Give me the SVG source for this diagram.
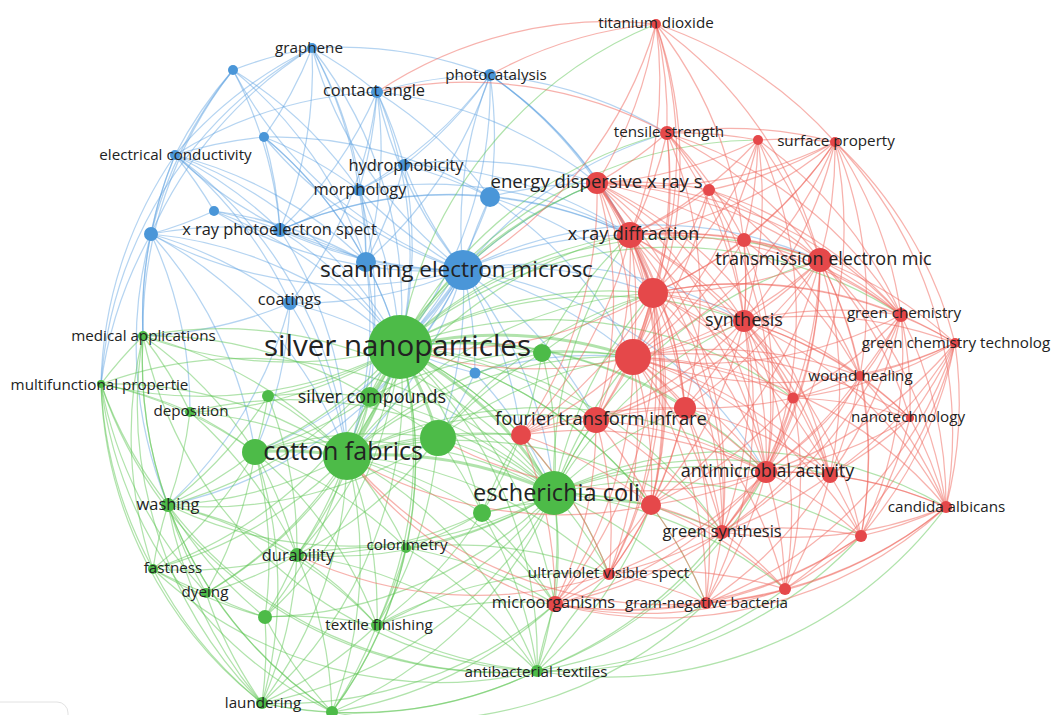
<svg xmlns="http://www.w3.org/2000/svg" width="1059" height="715" viewBox="0 0 1059 715">
<style>
#edges path{fill:none;stroke-width:1.25}
.eb path{stroke:#5b9fe0;stroke-opacity:.45}
.eg path{stroke:#5cc552;stroke-opacity:.48}
.er path{stroke:#f0665c;stroke-opacity:.5}
#edges path.w{stroke-width:3}
.nb circle{fill:#4a96d8}
.ng circle{fill:#4dbb48}
.nr circle{fill:#e5484a}
text{font-family:"Open Sans","Liberation Sans",sans-serif;fill:#222;text-anchor:middle}
.s{font-size:15.2px}.m{font-size:16.4px}.l{font-size:18px}
</style>
<rect width="1059" height="715" fill="#fff"/>
<rect x="-12" y="702" width="80" height="40" rx="11" fill="#fff" stroke="#e2e2e2"/>
<g id="edges">
<g class="eb">
<path d="M463 270A420 420 0 0 1 312 48"/>
<path d="M463 270A420 420 0 0 1 233 70"/>
<path d="M463 270A420 420 0 0 1 377 92"/>
<path d="M463 270A420 420 0 0 1 490 75"/>
<path d="M463 270A420 420 0 0 1 264 137"/>
<path d="M463 270A420 420 0 0 1 175 155"/>
<path d="M463 270A420 420 0 0 1 404 165"/>
<path d="M463 270A420 420 0 0 1 359 190"/>
<path d="M463 270A420 420 0 0 1 490 197"/>
<path d="M463 270A420 420 0 0 1 214 211"/>
<path d="M463 270A420 420 0 0 1 280 230"/>
<path d="M463 270A420 420 0 0 1 151 234"/>
<path d="M463 270A420 420 0 0 1 366 262"/>
<path d="M463 270A420 420 0 0 1 290 303"/>
<path d="M463 270A420 420 0 0 1 475 373"/>
<path class="w" d="M463 270A420 420 0 0 1 400 347"/>
<path d="M463 270A420 420 0 0 1 347 456"/>
<path d="M463 270A420 420 0 0 1 438 438"/>
<path d="M463 270A420 420 0 0 1 554 493"/>
<path d="M463 270A420 420 0 0 1 370 397"/>
<path d="M463 270A420 420 0 0 1 597 183"/>
<path d="M463 270A420 420 0 0 1 630 235"/>
<path d="M463 270A420 420 0 0 1 653 293"/>
<path d="M463 270A420 420 0 0 1 633 357"/>
<path d="M463 270A420 420 0 0 1 820 260"/>
<path d="M463 270A420 420 0 0 1 667 133"/>
<path d="M463 270A420 420 0 0 1 744 321"/>
<path d="M463 270A420 420 0 0 1 596 420"/>
<path d="M463 270A420 420 0 0 1 255 452"/>
<path d="M463 270A420 420 0 0 1 168 505"/>
<path d="M463 270A420 420 0 0 1 521 435"/>
<path d="M463 270A420 420 0 0 1 766 472"/>
<path d="M233 70A420 420 0 0 1 312 48"/>
<path d="M312 48A420 420 0 0 1 377 92"/>
<path d="M312 48A420 420 0 0 1 264 137"/>
<path d="M175 155A420 420 0 0 1 312 48"/>
<path d="M312 48A420 420 0 0 1 359 190"/>
<path d="M312 48A420 420 0 0 1 280 230"/>
<path d="M312 48A420 420 0 0 1 366 262"/>
<path d="M312 48A420 420 0 0 1 490 75"/>
<path d="M312 48A420 420 0 0 1 400 347"/>
<path d="M151 234A420 420 0 0 1 312 48"/>
<path d="M175 155A420 420 0 0 1 233 70"/>
<path d="M151 234A420 420 0 0 1 233 70"/>
<path d="M233 70A420 420 0 0 1 280 230"/>
<path d="M233 70A420 420 0 0 1 366 262"/>
<path d="M233 70A420 420 0 0 1 359 190"/>
<path d="M377 92A420 420 0 0 1 404 165"/>
<path d="M377 92A420 420 0 0 1 359 190"/>
<path d="M377 92A420 420 0 0 1 490 197"/>
<path d="M377 92A420 420 0 0 1 366 262"/>
<path d="M377 92A420 420 0 0 1 290 303"/>
<path d="M377 92A420 420 0 0 1 280 230"/>
<path d="M377 92A420 420 0 0 1 490 75"/>
<path d="M377 92A420 420 0 0 1 400 347"/>
<path d="M175 155A420 420 0 0 1 377 92"/>
<path d="M377 92A420 420 0 0 1 597 183"/>
<path d="M490 75A420 420 0 0 1 490 197"/>
<path d="M490 75A420 420 0 0 1 404 165"/>
<path d="M490 75A420 420 0 0 1 597 183"/>
<path d="M490 75A420 420 0 0 1 630 235"/>
<path d="M490 75A420 420 0 0 1 359 190"/>
<path d="M490 75A420 420 0 0 1 667 133"/>
<path d="M490 75A420 420 0 0 1 400 347"/>
<path d="M490 75A420 420 0 0 1 366 262"/>
<path d="M490 75A420 420 0 0 1 653 293"/>
<path d="M151 234A420 420 0 0 1 175 155"/>
<path d="M175 155A420 420 0 0 1 280 230"/>
<path d="M175 155A420 420 0 0 1 214 211"/>
<path d="M175 155A420 420 0 0 1 264 137"/>
<path d="M175 155A420 420 0 0 1 290 303"/>
<path d="M175 155A420 420 0 0 1 366 262"/>
<path d="M175 155A420 420 0 0 1 400 347"/>
<path d="M175 155A420 420 0 0 1 347 456"/>
<path d="M264 137A420 420 0 0 1 280 230"/>
<path d="M264 137A420 420 0 0 1 359 190"/>
<path d="M264 137A420 420 0 0 1 490 197"/>
<path d="M264 137A420 420 0 0 1 366 262"/>
<path d="M264 137A420 420 0 0 1 400 347"/>
<path d="M404 165A420 420 0 0 1 359 190"/>
<path d="M404 165A420 420 0 0 1 490 197"/>
<path d="M404 165A420 420 0 0 1 366 262"/>
<path d="M404 165A420 420 0 0 1 400 347"/>
<path d="M404 165A420 420 0 0 1 597 183"/>
<path d="M404 165A420 420 0 0 1 630 235"/>
<path d="M359 190A420 420 0 0 1 366 262"/>
<path d="M359 190A420 420 0 0 1 280 230"/>
<path d="M359 190A420 420 0 0 1 400 347"/>
<path d="M359 190A420 420 0 0 1 630 235"/>
<path d="M359 190A420 420 0 0 1 347 456"/>
<path d="M214 211A420 420 0 0 1 280 230"/>
<path d="M214 211A420 420 0 0 1 151 234"/>
<path d="M214 211A420 420 0 0 1 400 347"/>
<path d="M214 211A420 420 0 0 1 366 262"/>
<path d="M151 234A420 420 0 0 1 280 230"/>
<path d="M280 230A420 420 0 0 1 366 262"/>
<path d="M280 230A420 420 0 0 1 400 347"/>
<path d="M280 230A420 420 0 0 1 347 456"/>
<path d="M280 230A420 420 0 0 1 490 197"/>
<path d="M280 230A420 420 0 0 1 630 235"/>
<path d="M143 336A420 420 0 0 1 151 234"/>
<path d="M151 234A420 420 0 0 1 290 303"/>
<path d="M151 234A420 420 0 0 1 255 452"/>
<path d="M168 505A420 420 0 0 1 151 234"/>
<path d="M151 234A420 420 0 0 1 190 412"/>
<path d="M151 234A420 420 0 0 1 400 347"/>
<path d="M151 234A420 420 0 0 1 347 456"/>
<path d="M101 384A420 420 0 0 1 151 234"/>
<path d="M490 197A420 420 0 0 1 597 183"/>
<path d="M490 197A420 420 0 0 1 630 235"/>
<path d="M490 197A420 420 0 0 1 400 347"/>
<path d="M490 197A420 420 0 0 1 653 293"/>
<path d="M490 197A420 420 0 0 1 633 357"/>
<path d="M366 262A420 420 0 0 1 347 456"/>
<path d="M366 262A420 420 0 0 1 400 347"/>
<path d="M366 262A420 420 0 0 1 370 397"/>
<path d="M290 303A420 420 0 0 1 347 456"/>
<path d="M290 303A420 420 0 0 1 255 452"/>
<path d="M290 303A420 420 0 0 1 400 347"/>
<path d="M290 303A420 420 0 0 1 168 505"/>
<path d="M290 303A420 420 0 0 1 143 336"/>
<path d="M475 373A420 420 0 0 1 400 347"/>
<path d="M475 373A420 420 0 0 1 633 357"/>
<path d="M475 373A420 420 0 0 1 554 493"/>
<path d="M475 373A420 420 0 0 1 438 438"/>
<path d="M143 336A420 420 0 0 1 175 155"/>
<path d="M101 384A420 420 0 0 1 175 155"/>
<path d="M143 336A420 420 0 0 1 233 70"/>
<path d="M101 384A420 420 0 0 1 312 48"/>
</g>
<g class="eg">
<path d="M400 347A420 420 0 0 1 143 336"/>
<path d="M400 347A420 420 0 0 1 101 384"/>
<path d="M400 347A420 420 0 0 1 268 396"/>
<path class="w" d="M400 347A420 420 0 0 1 370 397"/>
<path d="M400 347A420 420 0 0 1 190 412"/>
<path d="M400 347A420 420 0 0 1 255 452"/>
<path class="w" d="M400 347A420 420 0 0 1 347 456"/>
<path class="w" d="M400 347A420 420 0 0 1 438 438"/>
<path d="M400 347A420 420 0 0 1 542 353"/>
<path class="w" d="M400 347A420 420 0 0 1 554 493"/>
<path d="M400 347A420 420 0 0 1 482 513"/>
<path d="M400 347A420 420 0 0 1 168 505"/>
<path d="M400 347A420 420 0 0 1 297 555"/>
<path d="M400 347A420 420 0 0 1 406 548"/>
<path d="M400 347A420 420 0 0 1 153 569"/>
<path d="M400 347A420 420 0 0 1 206 593"/>
<path d="M400 347A420 420 0 0 1 265 617"/>
<path d="M400 347A420 420 0 0 1 377 625"/>
<path d="M400 347A420 420 0 0 1 537 671"/>
<path d="M400 347A420 420 0 0 1 262 703"/>
<path d="M400 347A420 420 0 0 1 332 712"/>
<path d="M400 347A420 420 0 0 1 597 183"/>
<path d="M400 347A420 420 0 0 1 630 235"/>
<path d="M400 347A420 420 0 0 1 653 293"/>
<path class="w" d="M400 347A420 420 0 0 1 633 357"/>
<path d="M400 347A420 420 0 0 1 521 435"/>
<path d="M400 347A420 420 0 0 1 596 420"/>
<path d="M400 347A420 420 0 0 1 744 321"/>
<path d="M400 347A420 420 0 0 1 766 472"/>
<path d="M400 347A420 420 0 0 1 722 532"/>
<path d="M400 347A420 420 0 0 1 609 574"/>
<path d="M400 347A420 420 0 0 1 555 604"/>
<path d="M400 347A420 420 0 0 1 820 260"/>
<path d="M400 347A420 420 0 0 1 651 505"/>
<path d="M400 347A420 420 0 0 1 685 408"/>
<path d="M400 347A420 420 0 0 1 667 133"/>
<path d="M400 347A420 420 0 0 1 656 24"/>
<path d="M400 347A420 420 0 0 1 758 140"/>
<path d="M400 347A420 420 0 0 1 706 603"/>
<path d="M400 347A420 420 0 0 1 901 315"/>
<path d="M400 347A420 420 0 0 1 793 398"/>
<path d="M101 384A420 420 0 0 1 143 336"/>
<path d="M143 336A420 420 0 0 1 255 452"/>
<path d="M143 336A420 420 0 0 1 347 456"/>
<path d="M168 505A420 420 0 0 1 143 336"/>
<path d="M143 336A420 420 0 0 1 190 412"/>
<path d="M153 569A420 420 0 0 1 143 336"/>
<path d="M262 703A420 420 0 0 1 143 336"/>
<path d="M143 336A420 420 0 0 1 554 493"/>
<path d="M143 336A420 420 0 0 1 370 397"/>
<path d="M168 505A420 420 0 0 1 101 384"/>
<path d="M153 569A420 420 0 0 1 101 384"/>
<path d="M262 703A420 420 0 0 1 101 384"/>
<path d="M101 384A420 420 0 0 1 347 456"/>
<path d="M101 384A420 420 0 0 1 255 452"/>
<path d="M206 593A420 420 0 0 1 101 384"/>
<path d="M537 671A420 420 0 0 1 101 384"/>
<path d="M101 384A420 420 0 0 1 190 412"/>
<path d="M101 384A420 420 0 0 1 554 493"/>
<path d="M268 396A420 420 0 0 1 347 456"/>
<path d="M268 396A420 420 0 0 1 168 505"/>
<path d="M268 396A420 420 0 0 1 255 452"/>
<path d="M268 396A420 420 0 0 1 370 397"/>
<path d="M268 396A420 420 0 0 1 297 555"/>
<path d="M370 397A420 420 0 0 1 347 456"/>
<path d="M370 397A420 420 0 0 1 554 493"/>
<path d="M370 397A420 420 0 0 1 438 438"/>
<path d="M370 397A420 420 0 0 1 255 452"/>
<path d="M370 397A420 420 0 0 1 297 555"/>
<path d="M370 397A420 420 0 0 1 633 357"/>
<path d="M190 412A420 420 0 0 1 347 456"/>
<path d="M190 412A420 420 0 0 1 168 505"/>
<path d="M190 412A420 420 0 0 1 255 452"/>
<path d="M190 412A420 420 0 0 1 297 555"/>
<path d="M190 412A420 420 0 0 1 554 493"/>
<path class="w" d="M255 452A420 420 0 0 1 347 456"/>
<path d="M255 452A420 420 0 0 1 168 505"/>
<path d="M255 452A420 420 0 0 1 297 555"/>
<path d="M255 452A420 420 0 0 1 153 569"/>
<path d="M255 452A420 420 0 0 1 206 593"/>
<path d="M255 452A420 420 0 0 1 265 617"/>
<path d="M255 452A420 420 0 0 1 262 703"/>
<path d="M255 452A420 420 0 0 1 554 493"/>
<path d="M255 452A420 420 0 0 1 438 438"/>
<path d="M255 452A420 420 0 0 1 377 625"/>
<path d="M255 452A420 420 0 0 1 406 548"/>
<path d="M347 456A420 420 0 0 1 438 438"/>
<path class="w" d="M347 456A420 420 0 0 1 554 493"/>
<path d="M347 456A420 420 0 0 1 168 505"/>
<path d="M347 456A420 420 0 0 1 297 555"/>
<path d="M347 456A420 420 0 0 1 406 548"/>
<path d="M347 456A420 420 0 0 1 153 569"/>
<path d="M347 456A420 420 0 0 1 206 593"/>
<path d="M347 456A420 420 0 0 1 265 617"/>
<path d="M347 456A420 420 0 0 1 377 625"/>
<path d="M347 456A420 420 0 0 1 537 671"/>
<path d="M347 456A420 420 0 0 1 262 703"/>
<path d="M347 456A420 420 0 0 1 332 712"/>
<path d="M347 456A420 420 0 0 1 482 513"/>
<path d="M347 456A420 420 0 0 1 542 353"/>
<path d="M347 456A420 420 0 0 1 633 357"/>
<path d="M347 456A420 420 0 0 1 653 293"/>
<path d="M347 456A420 420 0 0 1 596 420"/>
<path d="M347 456A420 420 0 0 1 521 435"/>
<path d="M347 456A420 420 0 0 1 766 472"/>
<path d="M347 456A420 420 0 0 1 555 604"/>
<path d="M347 456A420 420 0 0 1 609 574"/>
<path d="M347 456A420 420 0 0 1 722 532"/>
<path d="M347 456A420 420 0 0 1 630 235"/>
<path d="M347 456A420 420 0 0 1 597 183"/>
<path d="M438 438A420 420 0 0 1 554 493"/>
<path d="M438 438A420 420 0 0 1 297 555"/>
<path d="M438 438A420 420 0 0 1 377 625"/>
<path d="M438 438A420 420 0 0 1 542 353"/>
<path d="M438 438A420 420 0 0 1 633 357"/>
<path d="M438 438A420 420 0 0 1 482 513"/>
<path d="M438 438A420 420 0 0 1 168 505"/>
<path d="M438 438A420 420 0 0 1 521 435"/>
<path d="M438 438A420 420 0 0 1 653 293"/>
<path d="M554 493A420 420 0 0 1 482 513"/>
<path d="M554 493A420 420 0 0 1 377 625"/>
<path d="M554 493A420 420 0 0 1 537 671"/>
<path d="M554 493A420 420 0 0 1 297 555"/>
<path d="M554 493A420 420 0 0 1 406 548"/>
<path d="M554 493A420 420 0 0 1 168 505"/>
<path d="M554 493A420 420 0 0 1 265 617"/>
<path d="M554 493A420 420 0 0 1 332 712"/>
<path d="M554 493A420 420 0 0 1 262 703"/>
<path d="M554 493A420 420 0 0 1 651 505"/>
<path d="M554 493A420 420 0 0 1 555 604"/>
<path d="M554 493A420 420 0 0 1 766 472"/>
<path d="M554 493A420 420 0 0 1 722 532"/>
<path d="M554 493A420 420 0 0 1 609 574"/>
<path d="M554 493A420 420 0 0 1 706 603"/>
<path d="M554 493A420 420 0 0 1 633 357"/>
<path d="M554 493A420 420 0 0 1 521 435"/>
<path d="M554 493A420 420 0 0 1 596 420"/>
<path d="M554 493A420 420 0 0 1 653 293"/>
<path d="M554 493A420 420 0 0 1 685 408"/>
<path d="M554 493A420 420 0 0 1 630 235"/>
<path d="M554 493A420 420 0 0 1 744 321"/>
<path d="M554 493A420 420 0 0 1 785 589"/>
<path d="M554 493A420 420 0 0 1 861 536"/>
<path d="M554 493A420 420 0 0 1 946 507"/>
<path d="M554 493A420 420 0 0 1 820 260"/>
<path d="M554 493A420 420 0 0 1 830 475"/>
<path d="M153 569A420 420 0 0 1 168 505"/>
<path d="M206 593A420 420 0 0 1 168 505"/>
<path d="M168 505A420 420 0 0 1 297 555"/>
<path d="M262 703A420 420 0 0 1 168 505"/>
<path d="M265 617A420 420 0 0 1 168 505"/>
<path d="M332 712A420 420 0 0 1 168 505"/>
<path d="M168 505A420 420 0 0 1 377 625"/>
<path d="M297 555A420 420 0 0 1 153 569"/>
<path d="M297 555A420 420 0 0 1 265 617"/>
<path d="M297 555A420 420 0 0 1 377 625"/>
<path d="M297 555A420 420 0 0 1 262 703"/>
<path d="M297 555A420 420 0 0 1 332 712"/>
<path d="M297 555A420 420 0 0 1 406 548"/>
<path d="M297 555A420 420 0 0 1 206 593"/>
<path d="M297 555A420 420 0 0 1 537 671"/>
<path d="M206 593A420 420 0 0 1 153 569"/>
<path d="M262 703A420 420 0 0 1 153 569"/>
<path d="M265 617A420 420 0 0 1 153 569"/>
<path d="M265 617A420 420 0 0 1 206 593"/>
<path d="M262 703A420 420 0 0 1 206 593"/>
<path d="M265 617A420 420 0 0 1 262 703"/>
<path d="M265 617A420 420 0 0 1 377 625"/>
<path d="M332 712A420 420 0 0 1 265 617"/>
<path d="M537 671A420 420 0 0 1 377 625"/>
<path d="M377 625A420 420 0 0 1 332 712"/>
<path d="M377 625A420 420 0 0 1 262 703"/>
<path d="M332 712A420 420 0 0 1 262 703"/>
<path d="M537 671A420 420 0 0 1 332 712"/>
<path d="M537 671A420 420 0 0 1 262 703"/>
<path d="M482 513A420 420 0 0 1 537 671"/>
<path d="M482 513A420 420 0 0 1 377 625"/>
<path d="M482 513A420 420 0 0 1 297 555"/>
<path d="M482 513A420 420 0 0 1 406 548"/>
<path d="M406 548A420 420 0 0 1 377 625"/>
<path d="M406 548A420 420 0 0 1 537 671"/>
<path d="M406 548A420 420 0 0 1 332 712"/>
<path d="M537 671A420 420 0 0 1 168 505"/>
<path d="M542 353A420 420 0 0 1 554 493"/>
<path d="M542 353A420 420 0 0 1 633 357"/>
<path d="M542 353A420 420 0 0 1 653 293"/>
<path d="M542 353A420 420 0 0 1 630 235"/>
<path d="M542 353A420 420 0 0 1 596 420"/>
<path d="M542 353A420 420 0 0 1 482 513"/>
<path d="M537 671A420 420 0 0 1 555 604"/>
<path d="M537 671A420 420 0 0 1 609 574"/>
<path d="M706 603A420 420 0 0 1 537 671"/>
<path d="M785 589A420 420 0 0 1 537 671"/>
<path d="M861 536A420 420 0 0 1 537 671"/>
<path d="M946 507A420 420 0 0 1 537 671"/>
<path d="M722 532A420 420 0 0 1 537 671"/>
<path d="M766 472A420 420 0 0 1 537 671"/>
<path d="M651 505A420 420 0 0 1 537 671"/>
<path d="M555 604A420 420 0 0 1 332 712"/>
<path d="M706 603A420 420 0 0 1 332 712"/>
<path d="M555 604A420 420 0 0 1 262 703"/>
<path d="M377 625A420 420 0 0 1 555 604"/>
<path d="M377 625A420 420 0 0 1 609 574"/>
<path d="M406 548A420 420 0 0 1 609 574"/>
<path d="M406 548A420 420 0 0 1 555 604"/>
<path d="M482 513A420 420 0 0 1 651 505"/>
<path d="M482 513A420 420 0 0 1 555 604"/>
<path d="M482 513A420 420 0 0 1 521 435"/>
<path d="M332 712A420 420 0 0 1 101 384"/>
<path d="M332 712A420 420 0 0 1 143 336"/>
<path d="M537 671A420 420 0 0 1 143 336"/>
<path d="M537 671A420 420 0 0 1 153 569"/>
</g>
<g class="er">
<path d="M656 24A420 420 0 0 1 667 133"/>
<path d="M656 24A420 420 0 0 1 597 183"/>
<path d="M656 24A420 420 0 0 1 630 235"/>
<path d="M656 24A420 420 0 0 1 820 260"/>
<path d="M656 24A420 420 0 0 1 835 142"/>
<path d="M656 24A420 420 0 0 1 653 293"/>
<path d="M656 24A420 420 0 0 1 633 357"/>
<path d="M490 75A420 420 0 0 1 656 24"/>
<path d="M377 92A420 420 0 0 1 656 24"/>
<path d="M656 24A420 420 0 0 1 463 270"/>
<path d="M656 24A420 420 0 0 1 744 321"/>
<path d="M667 133A420 420 0 0 1 758 140"/>
<path d="M667 133A420 420 0 0 1 835 142"/>
<path d="M667 133A420 420 0 0 1 597 183"/>
<path d="M667 133A420 420 0 0 1 630 235"/>
<path d="M667 133A420 420 0 0 1 820 260"/>
<path d="M667 133A420 420 0 0 1 653 293"/>
<path d="M667 133A420 420 0 0 1 744 321"/>
<path d="M667 133A420 420 0 0 1 633 357"/>
<path d="M667 133A420 420 0 0 1 709 190"/>
<path d="M667 133A420 420 0 0 1 744 240"/>
<path d="M377 92A420 420 0 0 1 667 133"/>
<path d="M667 133A420 420 0 0 1 901 315"/>
<path d="M667 133A420 420 0 0 1 685 408"/>
<path d="M758 140A420 420 0 0 1 597 183"/>
<path d="M758 140A420 420 0 0 1 820 260"/>
<path d="M758 140A420 420 0 0 1 744 321"/>
<path d="M758 140A420 420 0 0 1 835 142"/>
<path d="M758 140A420 420 0 0 1 744 240"/>
<path d="M758 140A420 420 0 0 1 630 235"/>
<path d="M758 140A420 420 0 0 1 653 293"/>
<path d="M758 140A420 420 0 0 1 633 357"/>
<path d="M758 140A420 420 0 0 1 901 315"/>
<path d="M758 140A420 420 0 0 1 766 472"/>
<path d="M835 142A420 420 0 0 1 820 260"/>
<path d="M835 142A420 420 0 0 1 744 321"/>
<path d="M835 142A420 420 0 0 1 901 315"/>
<path d="M835 142A420 420 0 0 1 630 235"/>
<path d="M835 142A420 420 0 0 1 653 293"/>
<path d="M835 142A420 420 0 0 1 955 343"/>
<path d="M835 142A420 420 0 0 1 709 190"/>
<path d="M835 142A420 420 0 0 1 633 357"/>
<path d="M835 142A420 420 0 0 1 766 472"/>
<path d="M835 142A420 420 0 0 1 860 376"/>
<path d="M835 142A420 420 0 0 1 946 507"/>
<path d="M835 142A420 420 0 0 1 597 183"/>
<path d="M835 142A420 420 0 0 1 744 240"/>
<path d="M597 183A420 420 0 0 1 709 190"/>
<path class="w" d="M597 183A420 420 0 0 1 630 235"/>
<path d="M597 183A420 420 0 0 1 820 260"/>
<path d="M597 183A420 420 0 0 1 653 293"/>
<path d="M597 183A420 420 0 0 1 744 321"/>
<path d="M597 183A420 420 0 0 1 633 357"/>
<path d="M597 183A420 420 0 0 1 596 420"/>
<path d="M597 183A420 420 0 0 1 685 408"/>
<path d="M597 183A420 420 0 0 1 766 472"/>
<path d="M597 183A420 420 0 0 1 744 240"/>
<path d="M597 183A420 420 0 0 1 521 435"/>
<path d="M597 183A420 420 0 0 1 651 505"/>
<path d="M597 183A420 420 0 0 1 722 532"/>
<path d="M597 183A420 420 0 0 1 901 315"/>
<path d="M597 183A420 420 0 0 1 830 475"/>
<path d="M709 190A420 420 0 0 1 820 260"/>
<path d="M709 190A420 420 0 0 1 744 321"/>
<path d="M709 190A420 420 0 0 1 630 235"/>
<path d="M709 190A420 420 0 0 1 653 293"/>
<path d="M709 190A420 420 0 0 1 633 357"/>
<path d="M709 190A420 420 0 0 1 766 472"/>
<path d="M709 190A420 420 0 0 1 901 315"/>
<path d="M709 190A420 420 0 0 1 860 376"/>
<path d="M630 235A420 420 0 0 1 744 240"/>
<path d="M630 235A420 420 0 0 1 820 260"/>
<path class="w" d="M630 235A420 420 0 0 1 653 293"/>
<path d="M630 235A420 420 0 0 1 744 321"/>
<path d="M630 235A420 420 0 0 1 633 357"/>
<path d="M630 235A420 420 0 0 1 596 420"/>
<path d="M630 235A420 420 0 0 1 685 408"/>
<path d="M630 235A420 420 0 0 1 766 472"/>
<path d="M630 235A420 420 0 0 1 722 532"/>
<path d="M630 235A420 420 0 0 1 521 435"/>
<path d="M630 235A420 420 0 0 1 651 505"/>
<path d="M630 235A420 420 0 0 1 901 315"/>
<path d="M630 235A420 420 0 0 1 793 398"/>
<path d="M630 235A420 420 0 0 1 609 574"/>
<path d="M744 240A420 420 0 0 1 820 260"/>
<path d="M744 240A420 420 0 0 1 744 321"/>
<path d="M744 240A420 420 0 0 1 653 293"/>
<path d="M744 240A420 420 0 0 1 633 357"/>
<path d="M744 240A420 420 0 0 1 766 472"/>
<path d="M744 240A420 420 0 0 1 901 315"/>
<path d="M744 240A420 420 0 0 1 860 376"/>
<path d="M820 260A420 420 0 0 1 653 293"/>
<path d="M820 260A420 420 0 0 1 744 321"/>
<path d="M820 260A420 420 0 0 1 901 315"/>
<path d="M820 260A420 420 0 0 1 955 343"/>
<path d="M820 260A420 420 0 0 1 633 357"/>
<path d="M820 260A420 420 0 0 1 860 376"/>
<path d="M820 260A420 420 0 0 1 793 398"/>
<path d="M820 260A420 420 0 0 1 766 472"/>
<path d="M820 260A420 420 0 0 1 830 475"/>
<path d="M820 260A420 420 0 0 1 685 408"/>
<path d="M820 260A420 420 0 0 1 946 507"/>
<path d="M820 260A420 420 0 0 1 722 532"/>
<path d="M820 260A420 420 0 0 1 910 418"/>
<path d="M820 260A420 420 0 0 1 861 536"/>
<path d="M820 260A420 420 0 0 1 596 420"/>
<path d="M820 260A420 420 0 0 1 651 505"/>
<path d="M653 293A420 420 0 0 1 744 321"/>
<path class="w" d="M653 293A420 420 0 0 1 633 357"/>
<path d="M653 293A420 420 0 0 1 596 420"/>
<path d="M653 293A420 420 0 0 1 685 408"/>
<path d="M653 293A420 420 0 0 1 766 472"/>
<path d="M653 293A420 420 0 0 1 722 532"/>
<path d="M653 293A420 420 0 0 1 901 315"/>
<path d="M653 293A420 420 0 0 1 521 435"/>
<path d="M653 293A420 420 0 0 1 651 505"/>
<path d="M653 293A420 420 0 0 1 793 398"/>
<path d="M653 293A420 420 0 0 1 830 475"/>
<path d="M653 293A420 420 0 0 1 609 574"/>
<path d="M653 293A420 420 0 0 1 555 604"/>
<path d="M653 293A420 420 0 0 1 860 376"/>
<path d="M653 293A420 420 0 0 1 955 343"/>
<path d="M744 321A420 420 0 0 1 901 315"/>
<path d="M744 321A420 420 0 0 1 955 343"/>
<path d="M744 321A420 420 0 0 1 633 357"/>
<path d="M744 321A420 420 0 0 1 860 376"/>
<path d="M744 321A420 420 0 0 1 793 398"/>
<path d="M744 321A420 420 0 0 1 685 408"/>
<path d="M744 321A420 420 0 0 1 766 472"/>
<path d="M744 321A420 420 0 0 1 830 475"/>
<path d="M744 321A420 420 0 0 1 910 418"/>
<path d="M744 321A420 420 0 0 1 722 532"/>
<path d="M744 321A420 420 0 0 1 946 507"/>
<path d="M744 321A420 420 0 0 1 861 536"/>
<path d="M744 321A420 420 0 0 1 651 505"/>
<path d="M744 321A420 420 0 0 1 596 420"/>
<path d="M744 321A420 420 0 0 1 785 589"/>
<path d="M744 321A420 420 0 0 1 706 603"/>
<path d="M901 315A420 420 0 0 1 955 343"/>
<path d="M901 315A420 420 0 0 1 860 376"/>
<path d="M901 315A420 420 0 0 1 793 398"/>
<path d="M901 315A420 420 0 0 1 910 418"/>
<path d="M901 315A420 420 0 0 1 766 472"/>
<path d="M901 315A420 420 0 0 1 946 507"/>
<path d="M901 315A420 420 0 0 1 830 475"/>
<path d="M901 315A420 420 0 0 1 633 357"/>
<path d="M901 315A420 420 0 0 1 861 536"/>
<path d="M901 315A420 420 0 0 1 722 532"/>
<path d="M955 343A420 420 0 0 1 860 376"/>
<path d="M955 343A420 420 0 0 1 910 418"/>
<path d="M955 343A420 420 0 0 1 946 507"/>
<path d="M955 343A420 420 0 0 1 830 475"/>
<path d="M955 343A420 420 0 0 1 861 536"/>
<path d="M955 343A420 420 0 0 1 766 472"/>
<path d="M955 343A420 420 0 0 1 793 398"/>
<path d="M955 343A420 420 0 0 1 785 589"/>
<path d="M955 343A420 420 0 0 1 706 603"/>
<path d="M955 343A420 420 0 0 1 633 357"/>
<path d="M633 357A420 420 0 0 1 521 435"/>
<path d="M633 357A420 420 0 0 1 596 420"/>
<path d="M633 357A420 420 0 0 1 685 408"/>
<path d="M633 357A420 420 0 0 1 766 472"/>
<path d="M633 357A420 420 0 0 1 651 505"/>
<path d="M633 357A420 420 0 0 1 722 532"/>
<path d="M633 357A420 420 0 0 1 609 574"/>
<path d="M633 357A420 420 0 0 1 555 604"/>
<path d="M633 357A420 420 0 0 1 706 603"/>
<path d="M633 357A420 420 0 0 1 830 475"/>
<path d="M633 357A420 420 0 0 1 793 398"/>
<path d="M633 357A420 420 0 0 1 860 376"/>
<path d="M633 357A420 420 0 0 1 861 536"/>
<path d="M633 357A420 420 0 0 1 785 589"/>
<path d="M633 357A420 420 0 0 1 946 507"/>
<path d="M633 357A420 420 0 0 1 910 418"/>
<path d="M860 376A420 420 0 0 1 793 398"/>
<path d="M860 376A420 420 0 0 1 910 418"/>
<path d="M860 376A420 420 0 0 1 766 472"/>
<path d="M860 376A420 420 0 0 1 830 475"/>
<path d="M860 376A420 420 0 0 1 946 507"/>
<path d="M860 376A420 420 0 0 1 861 536"/>
<path d="M860 376A420 420 0 0 1 722 532"/>
<path d="M793 398A420 420 0 0 1 766 472"/>
<path d="M793 398A420 420 0 0 1 685 408"/>
<path d="M793 398A420 420 0 0 1 830 475"/>
<path d="M793 398A420 420 0 0 1 722 532"/>
<path d="M793 398A420 420 0 0 1 910 418"/>
<path d="M793 398A420 420 0 0 1 651 505"/>
<path d="M793 398A420 420 0 0 1 785 589"/>
<path d="M521 435A420 420 0 0 1 596 420"/>
<path d="M521 435A420 420 0 0 1 651 505"/>
<path d="M521 435A420 420 0 0 1 555 604"/>
<path d="M521 435A420 420 0 0 1 609 574"/>
<path d="M521 435A420 420 0 0 1 685 408"/>
<path d="M521 435A420 420 0 0 1 766 472"/>
<path d="M596 420A420 420 0 0 1 685 408"/>
<path d="M596 420A420 420 0 0 1 651 505"/>
<path d="M596 420A420 420 0 0 1 766 472"/>
<path d="M596 420A420 420 0 0 1 722 532"/>
<path d="M596 420A420 420 0 0 1 609 574"/>
<path d="M596 420A420 420 0 0 1 555 604"/>
<path d="M685 408A420 420 0 0 1 766 472"/>
<path d="M685 408A420 420 0 0 1 651 505"/>
<path d="M685 408A420 420 0 0 1 722 532"/>
<path d="M685 408A420 420 0 0 1 830 475"/>
<path d="M685 408A420 420 0 0 1 609 574"/>
<path d="M685 408A420 420 0 0 1 706 603"/>
<path d="M910 418A420 420 0 0 1 766 472"/>
<path d="M910 418A420 420 0 0 1 946 507"/>
<path d="M910 418A420 420 0 0 1 830 475"/>
<path d="M910 418A420 420 0 0 1 861 536"/>
<path d="M766 472A420 420 0 0 1 830 475"/>
<path d="M766 472A420 420 0 0 1 651 505"/>
<path d="M766 472A420 420 0 0 1 722 532"/>
<path d="M766 472A420 420 0 0 1 861 536"/>
<path d="M766 472A420 420 0 0 1 785 589"/>
<path d="M766 472A420 420 0 0 1 706 603"/>
<path d="M766 472A420 420 0 0 1 946 507"/>
<path d="M766 472A420 420 0 0 1 609 574"/>
<path d="M766 472A420 420 0 0 1 555 604"/>
<path d="M830 475A420 420 0 0 1 946 507"/>
<path d="M830 475A420 420 0 0 1 861 536"/>
<path d="M830 475A420 420 0 0 1 785 589"/>
<path d="M830 475A420 420 0 0 1 722 532"/>
<path d="M830 475A420 420 0 0 1 706 603"/>
<path d="M651 505A420 420 0 0 1 722 532"/>
<path d="M651 505A420 420 0 0 1 609 574"/>
<path d="M651 505A420 420 0 0 1 555 604"/>
<path d="M651 505A420 420 0 0 1 706 603"/>
<path d="M651 505A420 420 0 0 1 785 589"/>
<path d="M946 507A420 420 0 0 1 861 536"/>
<path d="M946 507A420 420 0 0 1 785 589"/>
<path d="M946 507A420 420 0 0 1 706 603"/>
<path d="M946 507A420 420 0 0 1 555 604"/>
<path d="M946 507A420 420 0 0 1 722 532"/>
<path d="M722 532A420 420 0 0 1 785 589"/>
<path d="M722 532A420 420 0 0 1 706 603"/>
<path d="M722 532A420 420 0 0 1 609 574"/>
<path d="M722 532A420 420 0 0 1 555 604"/>
<path d="M722 532A420 420 0 0 1 861 536"/>
<path d="M861 536A420 420 0 0 1 785 589"/>
<path d="M861 536A420 420 0 0 1 706 603"/>
<path d="M861 536A420 420 0 0 1 555 604"/>
<path d="M609 574A420 420 0 0 1 555 604"/>
<path d="M609 574A420 420 0 0 1 706 603"/>
<path d="M609 574A420 420 0 0 1 785 589"/>
<path d="M785 589A420 420 0 0 1 706 603"/>
<path d="M785 589A420 420 0 0 1 555 604"/>
<path d="M706 603A420 420 0 0 1 555 604"/>
<path d="M555 604A420 420 0 0 1 347 456"/>
<path d="M706 603A420 420 0 0 1 347 456"/>
<path d="M609 574A420 420 0 0 1 297 555"/>
<path d="M766 472A420 420 0 0 1 438 438"/>
<path d="M651 505A420 420 0 0 1 347 456"/>
<path d="M633 357A420 420 0 0 1 400 347"/>
<path d="M653 293A420 420 0 0 1 400 347"/>
</g>
</g>
<g id="n-g3" class="ng"><circle cx="101" cy="384" r="4"/><text class="s" x="99.5" y="390">multifunctional propertie</text></g>
<g id="n-r20" class="nr"><circle cx="910" cy="418" r="4"/><text class="s" x="908" y="422">nanotechnology</text></g>
<g id="n-b1" class="nb"><circle cx="312" cy="48" r="5"/><text class="s" x="309" y="53">graphene</text></g>
<g id="n-b2" class="nb"><circle cx="233" cy="70" r="5"/></g>
<g id="n-b5" class="nb"><circle cx="264" cy="137" r="5"/></g>
<g id="n-b6" class="nb"><circle cx="175" cy="155" r="5"/><text class="s" x="175.5" y="160">electrical conductivity</text></g>
<g id="n-b10" class="nb"><circle cx="214" cy="211" r="5"/></g>
<g id="n-g2" class="ng"><circle cx="143" cy="336" r="5"/><text class="s" x="143.5" y="341">medical applications</text></g>
<g id="n-g6" class="ng"><circle cx="190" cy="412" r="5"/><text class="s" x="191" y="416">deposition</text></g>
<g id="n-g15" class="ng"><circle cx="406" cy="548" r="5"/><text class="s" x="407" y="550">colorimetry</text></g>
<g id="n-g16" class="ng"><circle cx="153" cy="569" r="5"/><text class="s" x="173" y="573">fastness</text></g>
<g id="n-g17" class="ng"><circle cx="206" cy="593" r="5"/><text class="s" x="205" y="597">dyeing</text></g>
<g id="n-r1" class="nr"><circle cx="656" cy="24" r="5"/><text class="s" x="656" y="28">titanium dioxide</text></g>
<g id="n-r3" class="nr"><circle cx="758" cy="140" r="5"/></g>
<g id="n-r4" class="nr"><circle cx="835" cy="142" r="5"/><text class="s" x="836" y="146">surface property</text></g>
<g id="n-r13" class="nr"><circle cx="955" cy="343" r="5"/><text class="s" x="956" y="348">green chemistry technolog</text></g>
<g id="n-r15" class="nr"><circle cx="860" cy="376" r="5"/><text class="s" x="860.5" y="381">wound healing</text></g>
<g id="n-r16" class="nr"><circle cx="793" cy="398" r="5.5"/></g>
<g id="n-b3" class="nb"><circle cx="377" cy="92" r="6"/><text class="m" x="374" y="96">contact angle</text></g>
<g id="n-b4" class="nb"><circle cx="490" cy="75" r="6"/><text class="s" x="496" y="80">photocatalysis</text></g>
<g id="n-b7" class="nb"><circle cx="404" cy="165" r="6"/><text class="m" x="406" y="171">hydrophobicity</text></g>
<g id="n-b8" class="nb"><circle cx="359" cy="190" r="6"/><text class="m" x="360" y="195">morphology</text></g>
<g id="n-b16" class="nb"><circle cx="475" cy="373" r="5.5"/></g>
<g id="n-g4" class="ng"><circle cx="268" cy="396" r="6"/></g>
<g id="n-g19" class="ng"><circle cx="377" cy="625" r="6"/><text class="s" x="379" y="630">textile finishing</text></g>
<g id="n-g20" class="ng"><circle cx="537" cy="671" r="6"/><text class="s" x="536" y="677">antibacterial textiles</text></g>
<g id="n-g21" class="ng"><circle cx="262" cy="703" r="6"/><text class="s" x="263" y="708">laundering</text></g>
<g id="n-g22" class="ng"><circle cx="332" cy="712" r="6"/></g>
<g id="n-r6" class="nr"><circle cx="709" cy="190" r="6"/></g>
<g id="n-r24" class="nr"><circle cx="946" cy="507" r="6"/><text class="s" x="946.5" y="512">candida albicans</text></g>
<g id="n-r26" class="nr"><circle cx="861" cy="536" r="6"/></g>
<g id="n-r27" class="nr"><circle cx="609" cy="574" r="6"/><text class="s" x="608.5" y="578">ultraviolet visible spect</text></g>
<g id="n-r28" class="nr"><circle cx="785" cy="589" r="6"/></g>
<g id="n-r30" class="nr"><circle cx="706" cy="603" r="6"/><text class="s" x="706.5" y="608">gram-negative bacteria</text></g>
<g id="n-b11" class="nb"><circle cx="280" cy="230" r="7"/><text class="m" x="279.5" y="235">x ray photoelectron spect</text></g>
<g id="n-b12" class="nb"><circle cx="151" cy="234" r="7"/></g>
<g id="n-b15" class="nb"><circle cx="290" cy="303" r="7"/><text class="m" x="289.5" y="305">coatings</text></g>
<g id="n-g13" class="ng"><circle cx="168" cy="505" r="7"/><text class="m" x="168" y="510">washing</text></g>
<g id="n-g14" class="ng"><circle cx="297" cy="555" r="7"/><text class="m" x="298" y="561">durability</text></g>
<g id="n-g18" class="ng"><circle cx="265" cy="617" r="7"/></g>
<g id="n-r2" class="nr"><circle cx="667" cy="133" r="7"/><text class="s" x="669" y="137">tensile strength</text></g>
<g id="n-r8" class="nr"><circle cx="744" cy="240" r="7"/></g>
<g id="n-r12" class="nr"><circle cx="901" cy="315" r="7"/><text class="s" x="904" y="318">green chemistry</text></g>
<g id="n-r25" class="nr"><circle cx="722" cy="532" r="7"/><text class="m" x="722" y="537">green synthesis</text></g>
<g id="n-r22" class="nr"><circle cx="830" cy="475" r="8"/></g>
<g id="n-r29" class="nr"><circle cx="555" cy="604" r="8"/><text class="m" x="553.5" y="608">microorganisms</text></g>
<g id="n-g10" class="ng"><circle cx="542" cy="353" r="9"/></g>
<g id="n-g12" class="ng"><circle cx="482" cy="513" r="9"/></g>
<g id="n-b9" class="nb"><circle cx="490" cy="197" r="10"/></g>
<g id="n-b13" class="nb"><circle cx="366" cy="262" r="10"/></g>
<g id="n-r17" class="nr"><circle cx="521" cy="435" r="10"/></g>
<g id="n-r23" class="nr"><circle cx="651" cy="505" r="10"/></g>
<g id="n-r19" class="nr"><circle cx="685" cy="408" r="11"/></g>
<g id="n-r21" class="nr"><circle cx="766" cy="472" r="11"/><text class="l" x="767.5" y="477">antimicrobial activity</text></g>
<g id="n-g5" class="ng"><circle cx="370" cy="397" r="10"/><text class="l" x="372" y="403">silver compounds</text></g>
<g id="n-r5" class="nr"><circle cx="597" cy="183" r="11"/><text class="l" x="596.5" y="188" style="font-size:18.6px">energy dispersive x ray s</text></g>
<g id="n-r11" class="nr"><circle cx="744" cy="321" r="11"/><text class="l" x="744" y="326">synthesis</text></g>
<g id="n-r9" class="nr"><circle cx="820" cy="260" r="12"/><text class="l" x="823.5" y="265">transmission electron mic</text></g>
<g id="n-r7" class="nr"><circle cx="630" cy="235" r="13"/><text class="l" x="633.5" y="240">x ray diffraction</text></g>
<g id="n-g7" class="ng"><circle cx="255" cy="452" r="13"/></g>
<g id="n-r18" class="nr"><circle cx="596" cy="420" r="13"/><text class="l" x="601" y="425" style="font-size:18.4px">fourier transform infrare</text></g>
<g id="n-r10" class="nr"><circle cx="653" cy="293" r="15"/></g>
<g id="n-g9" class="ng"><circle cx="438" cy="438" r="18"/></g>
<g id="n-r14" class="nr"><circle cx="633" cy="357" r="18"/></g>
<g id="n-b14" class="nb"><circle cx="463" cy="270" r="20"/><text x="456.5" y="277" style="font-size:22.5px">scanning electron microsc</text></g>
<g id="n-g11" class="ng"><circle cx="554" cy="493" r="22"/><text x="556.5" y="501" style="font-size:23.5px">escherichia coli</text></g>
<g id="n-g8" class="ng"><circle cx="347" cy="456" r="24"/><text x="343" y="460" style="font-size:25px">cotton fabrics</text></g>
<g id="n-g1" class="ng"><circle cx="400" cy="347" r="32"/><text x="397.5" y="356" style="font-size:29.5px">silver nanoparticles</text></g>
</svg>
